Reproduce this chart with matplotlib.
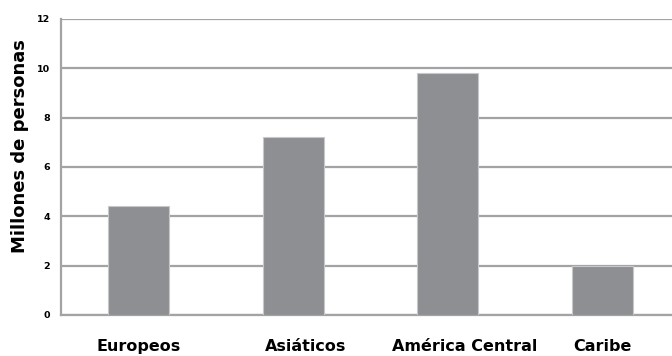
import matplotlib
matplotlib.use("Agg")
import matplotlib.pyplot as plt
import matplotlib.transforms as mtransforms

regions = ["Europeos", "Asiáticos", "América Central", "Caribe"]
millions = [4.4, 7.2, 9.8, 2.0]
y_ticks = [0, 2, 4, 6, 8, 10, 12]

plt.rcParams["font.family"] = ["DejaVu Sans"]

fig = plt.figure(figsize=(6.72, 3.56), dpi=100)
ax = fig.add_axes([61 / 672, 41 / 356, 611 / 672, 296 / 356])

x = list(range(len(regions)))
ax.bar(x, millions, width=0.395, color="#8e8f92", edgecolor="#c8c8ca",
       linewidth=0.8, zorder=3)

ax.set_xlim(-0.502, 3.45)
ax.set_ylim(0, 12)
ax.set_yticks(y_ticks)
ax.set_yticklabels([str(t) for t in y_ticks], fontsize=6.8, fontweight="bold")
ax.yaxis.grid(True, color="#a3a3a6", linewidth=1.6, zorder=0)
ax.tick_params(axis="both", length=0)
ax.tick_params(axis="y", pad=8)

ax.set_xticks(x)
ax.set_xticklabels(regions, fontsize=11.5, fontweight="bold")
ax.tick_params(axis="x", pad=17)
# nudge the longer labels a bit to the right
for lbl, dx in zip(ax.get_xticklabels(), [0, 12, 17, 0]):
    lbl.set_transform(lbl.get_transform()
                      + mtransforms.ScaledTranslation(dx / 100, 0, fig.dpi_scale_trans))

ax.set_ylabel("Millones de personas", fontsize=13, fontweight="bold")
ax.yaxis.set_label_coords(-0.052, 0.571)

for side in ["top", "right"]:
    ax.spines[side].set_visible(False)
for side in ["left", "bottom"]:
    ax.spines[side].set_color("#a3a3a6")
    ax.spines[side].set_linewidth(1.6)

fig.savefig("out.png", dpi=100)
